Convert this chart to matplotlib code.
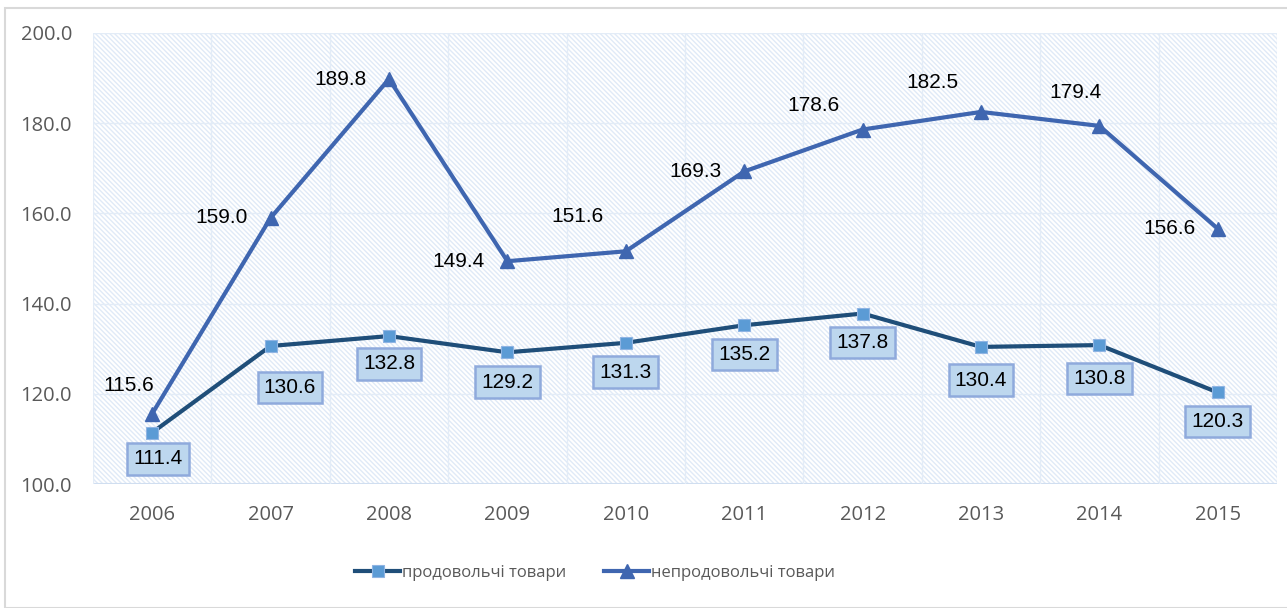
import matplotlib
matplotlib.use("Agg")
import matplotlib.pyplot as plt
from matplotlib.patches import Rectangle
import numpy as np

years = ["2006", "2007", "2008", "2009", "2010", "2011", "2012", "2013", "2014", "2015"]
food = [111.4, 130.6, 132.8, 129.2, 131.3, 135.2, 137.8, 130.4, 130.8, 120.3]
nonfood = [115.6, 159.0, 189.8, 149.4, 151.6, 169.3, 178.6, 182.5, 179.4, 156.6]
food_label = "продовольчі товари"
nonfood_label = "непродовольчі товари"

# label offsets in points (display)
food_off = [(4, -19), (14, -30), (0, -20), (0, -21.5), (0, -21), (0, -21), (0, -21), (0, -24), (0, -24), (0, -21)]
nonfood_off = [(-17, 20), (-35, 0), (-35, 0), (-35, 0), (-35, 25), (-35, 0), (-35, 17), (-35, 21), (-17, 24), (-35, 0)]

W, H, DPI = 1287, 608, 100
plt.rcParams['hatch.color'] = "#e0eaf7"
plt.rcParams['hatch.linewidth'] = 1.0
fig = plt.figure(figsize=(W / DPI, H / DPI), dpi=DPI)
fig.patches.append(Rectangle((5 / W, 0), 1.0, 1 - 8 / H, transform=fig.transFigure,
                             fill=False, edgecolor="#d9d9d9", linewidth=1.5, zorder=0))

ax = fig.add_axes([93 / W, 1 - 484 / H, (1277 - 93) / W, (484 - 33) / H])
x = np.arange(len(years))
ax.set_xlim(-0.5, len(years) - 0.5)
ax.set_ylim(100, 200)

ax.add_patch(Rectangle((0, 0), 1, 1, transform=ax.transAxes, facecolor="white",
                       edgecolor="#e0eaf7", hatch="\\" * 7, linewidth=0, zorder=0))

for s in ax.spines.values():
    s.set_visible(False)
yt = [100, 120, 140, 160, 180, 200]
ax.set_yticks(yt)
ax.set_yticklabels([f"{v:.1f}" for v in yt])
ax.set_xticks(x)
ax.set_xticklabels(years)
ax.tick_params(length=0, labelsize=14.5, colors="#595959")
ax.tick_params(axis="x", pad=15)
ax.tick_params(axis="y", pad=15)
for lab in ax.get_xticklabels() + ax.get_yticklabels():
    lab.set_fontfamily("Open Sans")
for yv in [120, 140, 160, 180, 200]:
    ax.axhline(yv, color="#e3ecf7", linewidth=1, zorder=1)
ax.axhline(100, color="#d0def0", linewidth=1.5, zorder=1)
for xv in np.arange(-0.5, len(years), 1.0):
    ax.axvline(xv, color="#e3ecf7", linewidth=1, zorder=1)

ax.plot(x, food, color="#1f4e79", linewidth=3, marker="s", markersize=9,
        markerfacecolor="#5b9bd5", markeredgecolor="#8fb4e3", markeredgewidth=0.8,
        label=food_label, zorder=3)
ax.plot(x, nonfood, color="#3f66b0", linewidth=3, marker="^", markersize=10,
        markerfacecolor="#3f66b0", markeredgecolor="#3f66b0",
        label=nonfood_label, zorder=3)

for i, v in enumerate(food):
    ax.annotate(f"{v:.1f}", (x[i], v), xytext=food_off[i], textcoords="offset points",
                ha="center", va="center", fontsize=15, family="Liberation Sans", color="black",
                bbox=dict(boxstyle="square,pad=0.3", facecolor="#bdd7ee", edgecolor="#8faadc", linewidth=1.8),
                zorder=4)
for i, v in enumerate(nonfood):
    ax.annotate(f"{v:.1f}", (x[i], v), xytext=nonfood_off[i], textcoords="offset points",
                ha="center", va="center", fontsize=15, family="Liberation Sans", color="black", zorder=4)

leg = fig.legend(loc="center", bbox_to_anchor=(595 / W, 1 - 573 / H), ncol=2, frameon=False,
                 prop={"family": "Open Sans", "size": 12}, handlelength=2.7, handletextpad=0.1,
                 columnspacing=2.3)
for t in leg.get_texts():
    t.set_color("#595959")

fig.savefig("out.png", dpi=DPI)
